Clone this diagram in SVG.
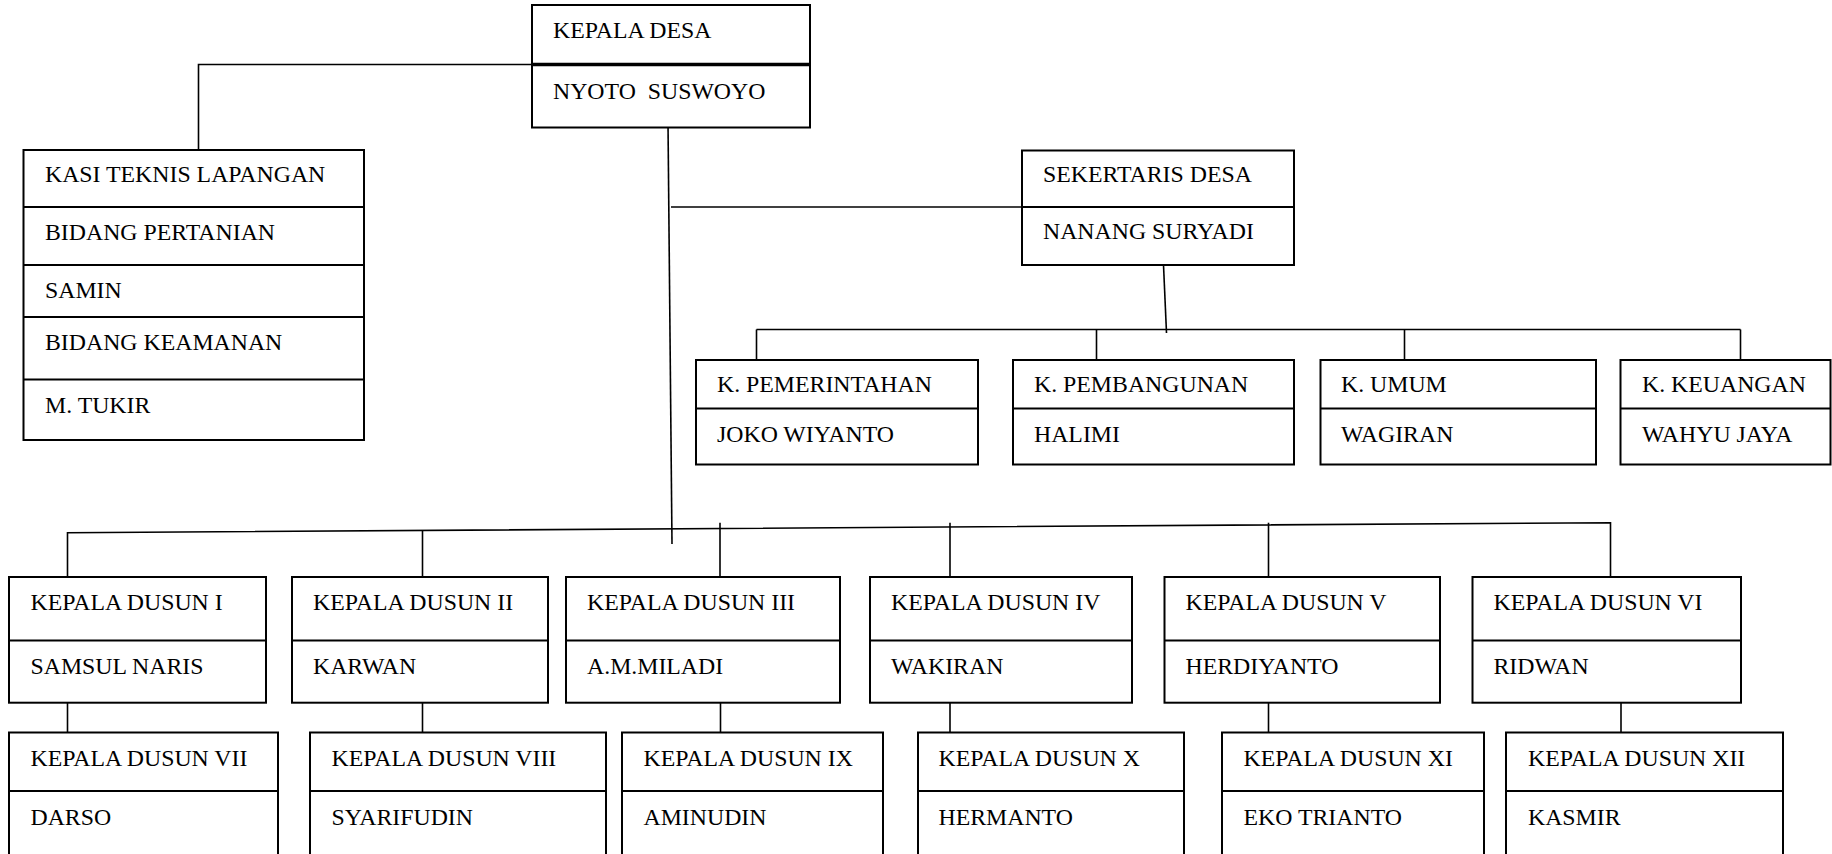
<svg xmlns="http://www.w3.org/2000/svg" width="1832" height="854" viewBox="0 0 1832 854">
<style>
.bg{fill:#fff}
.box{fill:#fff;stroke:#000;stroke-width:2}
.dv{stroke:#000;stroke-width:2}
.dv3{stroke:#000;stroke-width:3.5}
.conn{fill:none;stroke:#000;stroke-width:1.6}
text{font-family:"Liberation Serif","Times New Roman",serif;font-size:23.8px;fill:#000;white-space:pre}
</style>
<rect class="bg" x="0" y="0" width="1832" height="854"/>
<g id="connectors">
<polyline class="conn" points="533,64.5 198.5,64.5 198.5,150"/>
<line class="conn" x1="668" y1="123" x2="672" y2="544"/>
<line class="conn" x1="671" y1="207" x2="1022" y2="207"/>
<line class="conn" x1="1163.5" y1="265" x2="1166.5" y2="333"/>
<line class="conn" x1="756.5" y1="329.5" x2="1740.5" y2="329.5"/>
<line class="conn" x1="756.5" y1="329.5" x2="756.5" y2="360"/>
<line class="conn" x1="1096.5" y1="329.5" x2="1096.5" y2="360"/>
<line class="conn" x1="1404.5" y1="329.5" x2="1404.5" y2="360"/>
<line class="conn" x1="1740.5" y1="329.5" x2="1740.5" y2="360"/>
<polyline class="conn" points="67.5,577 67.5,532.7 1610.5,522.7 1610.5,577"/>
<line class="conn" x1="422.5" y1="530.4" x2="422.5" y2="577"/>
<line class="conn" x1="720" y1="522.7" x2="720" y2="577"/>
<line class="conn" x1="950" y1="522.7" x2="950" y2="577"/>
<line class="conn" x1="1268.5" y1="522.7" x2="1268.5" y2="577"/>
<line class="conn" x1="67.5" y1="702.7" x2="67.5" y2="732.5"/>
<line class="conn" x1="422.5" y1="702.7" x2="422.5" y2="732.5"/>
<line class="conn" x1="720.5" y1="702.7" x2="720.5" y2="732.5"/>
<line class="conn" x1="950" y1="702.7" x2="950" y2="732.5"/>
<line class="conn" x1="1268.5" y1="702.7" x2="1268.5" y2="732.5"/>
<line class="conn" x1="1621" y1="702.7" x2="1621" y2="732.5"/>
</g>
<g id="kepala-desa">
<rect class="box" x="532" y="5" width="278" height="122.5"/>
<line class="dv3" x1="532" y1="64.5" x2="810" y2="64.5"/>
<text x="553" y="37.5">KEPALA DESA</text>
<text x="553" y="98.5">NYOTO  SUSWOYO</text>
</g>
<g id="kasi-teknis">
<rect class="box" x="23.5" y="150" width="340.5" height="290"/>
<line class="dv" x1="23.5" y1="207" x2="364" y2="207"/>
<line class="dv" x1="23.5" y1="265" x2="364" y2="265"/>
<line class="dv" x1="23.5" y1="317" x2="364" y2="317"/>
<line class="dv" x1="23.5" y1="379.5" x2="364" y2="379.5"/>
<text x="45" y="182">KASI TEKNIS LAPANGAN</text>
<text x="45" y="239.5">BIDANG PERTANIAN</text>
<text x="45" y="298">SAMIN</text>
<text x="45" y="349.5">BIDANG KEAMANAN</text>
<text x="45" y="412.5">M. TUKIR</text>
</g>
<g id="sekertaris-desa">
<rect class="box" x="1022" y="150.5" width="272" height="114.5"/>
<line class="dv" x1="1022" y1="207" x2="1294" y2="207"/>
<text x="1043" y="182">SEKERTARIS DESA</text>
<text x="1043" y="239">NANANG SURYADI</text>
</g>
<g id="k-pemerintahan">
<rect class="box" x="696" y="360" width="282" height="104.5"/>
<line class="dv" x1="696" y1="408.5" x2="978" y2="408.5"/>
<text x="717" y="392">K. PEMERINTAHAN</text>
<text x="717" y="442">JOKO WIYANTO</text>
</g>
<g id="k-pembangunan">
<rect class="box" x="1013" y="360" width="281" height="104.5"/>
<line class="dv" x1="1013" y1="408.5" x2="1294" y2="408.5"/>
<text x="1034" y="392">K. PEMBANGUNAN</text>
<text x="1034" y="442">HALIMI</text>
</g>
<g id="k-umum">
<rect class="box" x="1320.5" y="360" width="275.5" height="104.5"/>
<line class="dv" x1="1320.5" y1="408.5" x2="1596" y2="408.5"/>
<text x="1341" y="392">K. UMUM</text>
<text x="1341" y="442">WAGIRAN</text>
</g>
<g id="k-keuangan">
<rect class="box" x="1620.5" y="360" width="210" height="104.5"/>
<line class="dv" x1="1620.5" y1="408.5" x2="1830.5" y2="408.5"/>
<text x="1642" y="392">K. KEUANGAN</text>
<text x="1642" y="442">WAHYU JAYA</text>
</g>
<g id="kepala-dusun-1">
<rect class="box" x="9" y="577" width="257" height="125.7"/>
<line class="dv" x1="9" y1="640.5" x2="266" y2="640.5"/>
<text x="30.5" y="610">KEPALA DUSUN I</text>
<text x="30.5" y="674">SAMSUL NARIS</text>
</g>
<g id="kepala-dusun-2">
<rect class="box" x="292" y="577" width="256" height="125.7"/>
<line class="dv" x1="292" y1="640.5" x2="548" y2="640.5"/>
<text x="313" y="610">KEPALA DUSUN II</text>
<text x="313" y="674">KARWAN</text>
</g>
<g id="kepala-dusun-3">
<rect class="box" x="566" y="577" width="274" height="125.7"/>
<line class="dv" x1="566" y1="640.5" x2="840" y2="640.5"/>
<text x="587" y="610">KEPALA DUSUN III</text>
<text x="587" y="674">A.M.MILADI</text>
</g>
<g id="kepala-dusun-4">
<rect class="box" x="870" y="577" width="262" height="125.7"/>
<line class="dv" x1="870" y1="640.5" x2="1132" y2="640.5"/>
<text x="891" y="610">KEPALA DUSUN IV</text>
<text x="891" y="674">WAKIRAN</text>
</g>
<g id="kepala-dusun-5">
<rect class="box" x="1164.5" y="577" width="275.5" height="125.7"/>
<line class="dv" x1="1164.5" y1="640.5" x2="1440" y2="640.5"/>
<text x="1185.5" y="610">KEPALA DUSUN V</text>
<text x="1185.5" y="674">HERDIYANTO</text>
</g>
<g id="kepala-dusun-6">
<rect class="box" x="1472.5" y="577" width="268.5" height="125.7"/>
<line class="dv" x1="1472.5" y1="640.5" x2="1741" y2="640.5"/>
<text x="1493.5" y="610">KEPALA DUSUN VI</text>
<text x="1493.5" y="674">RIDWAN</text>
</g>
<g id="kepala-dusun-7">
<rect class="box" x="9" y="732.5" width="269" height="140"/>
<line class="dv" x1="9" y1="791" x2="278" y2="791"/>
<text x="30.5" y="766">KEPALA DUSUN VII</text>
<text x="30.5" y="824.5">DARSO</text>
</g>
<g id="kepala-dusun-8">
<rect class="box" x="310" y="732.5" width="296" height="140"/>
<line class="dv" x1="310" y1="791" x2="606" y2="791"/>
<text x="331.5" y="766">KEPALA DUSUN VIII</text>
<text x="331.5" y="824.5">SYARIFUDIN</text>
</g>
<g id="kepala-dusun-9">
<rect class="box" x="622" y="732.5" width="261" height="140"/>
<line class="dv" x1="622" y1="791" x2="883" y2="791"/>
<text x="643.5" y="766">KEPALA DUSUN IX</text>
<text x="643.5" y="824.5">AMINUDIN</text>
</g>
<g id="kepala-dusun-10">
<rect class="box" x="918" y="732.5" width="266" height="140"/>
<line class="dv" x1="918" y1="791" x2="1184" y2="791"/>
<text x="938.5" y="766">KEPALA DUSUN X</text>
<text x="938.5" y="824.5">HERMANTO</text>
</g>
<g id="kepala-dusun-11">
<rect class="box" x="1222" y="732.5" width="262" height="140"/>
<line class="dv" x1="1222" y1="791" x2="1484" y2="791"/>
<text x="1243.5" y="766">KEPALA DUSUN XI</text>
<text x="1243.5" y="824.5">EKO TRIANTO</text>
</g>
<g id="kepala-dusun-12">
<rect class="box" x="1506" y="732.5" width="277" height="140"/>
<line class="dv" x1="1506" y1="791" x2="1783" y2="791"/>
<text x="1528" y="766">KEPALA DUSUN XII</text>
<text x="1528" y="824.5">KASMIR</text>
</g>
</svg>
